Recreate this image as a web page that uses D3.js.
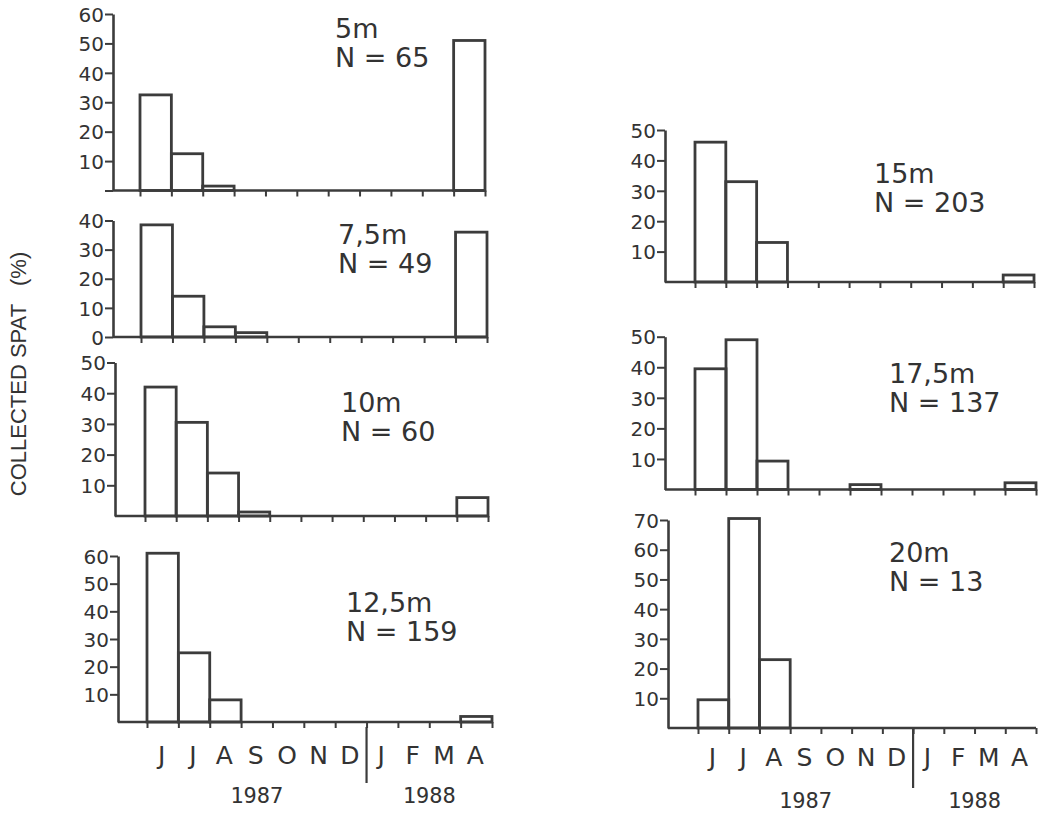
<!DOCTYPE html>
<html><head><meta charset="utf-8">
<script src="https://cdn.jsdelivr.net/npm/d3@7"></script>
<style>
html,body{margin:0;padding:0;background:#fff;}
svg{display:block;}
</style>
</head><body>
<svg id="chart" width="1040" height="814"></svg>
<script>
// ---------- DATA ----------
const months = ["J","J","A","S","O","N","D","J","F","M","A"];
const years = ["1987","1988"];
const depths = ["5m","7,5m","10m","12,5m","15m","17,5m","20m"];
const sampleSizes = [65,49,60,159,203,137,13];
// collected spat (%) per month, Jun 1987 .. Apr 1988
const spat5m   = [32.5,12.5,1.5,0,0,0,0,0,0,0,51];
const spat7_5m = [38.5,14,3.5,1.5,0,0,0,0,0,0,36];
const spat10m  = [42,30.5,14,1.3,0,0,0,0,0,0,6];
const spat12_5m= [61,25,8,0,0,0,0,0,0,0,2];
const spat15m  = [46,33,13,0,0,0,0,0,0,0,2.3];
const spat17_5m= [39.5,49,9.3,0,0,1.6,0,0,0,0,2.2];
const spat20m  = [9.5,70.5,23,0,0,0,0,0,0,0,0];
const yTicks5m   = [0,10,20,30,40,50,60];
const yTicks7_5m = [0,10,20,30,40];
const yTicks10m  = [10,20,30,40,50];
const yTicks12_5m= [10,20,30,40,50,60];
const yTicks15m  = [10,20,30,40,50];
const yTicks17_5m= [10,20,30,40,50];
const yTicks20m  = [10,20,30,40,50,60,70];
const tickLabels5m = ["","10","20","30","40","50","60"];

// ---------- LAYOUT ----------
const panels = [
  {values:spat5m,   ticks:yTicks5m,   labels:tickLabels5m, yMax:60, axisX:113, x0:140, x1:485, base:190.5, top:14,  lx:335, ly:38},
  {values:spat7_5m, ticks:yTicks7_5m, labels:null, yMax:40, axisX:113, x0:141, x1:487, base:337, top:220.5, lx:338, ly:244},
  {values:spat10m,  ticks:yTicks10m,  labels:null, yMax:50, axisX:115, x0:145, x1:488, base:516, top:362.5, lx:341, ly:412},
  {values:spat12_5m,ticks:yTicks12_5m,labels:null, yMax:60, axisX:118, x0:147, x1:492, base:722, top:556, lx:346, ly:612},
  {values:spat15m,  ticks:yTicks15m,  labels:null, yMax:50, axisX:665, x0:695, x1:1034, base:282, top:130, lx:874, ly:183},
  {values:spat17_5m,ticks:yTicks17_5m,labels:null, yMax:50, axisX:665, x0:695, x1:1036, base:489.5, top:336.7, lx:889, ly:383},
  {values:spat20m,  ticks:yTicks20m,  labels:null, yMax:70, axisX:668, x0:698, x1:1036, base:728, top:520, lx:889, ly:562}
];
const INK = "#3c3c3c";
const svg = d3.select("#chart");

panels.forEach((p,i)=>{
  const x = d3.scaleLinear().domain([0,months.length]).range([p.x0,p.x1]);
  const y = d3.scaleLinear().domain([0,p.yMax]).range([p.base,p.top]);
  const g = svg.append("g");
  // y axis
  const ya = d3.axisLeft(y).tickValues(p.ticks).tickSize(8).tickSizeOuter(0)
    .tickFormat((d,k)=> p.labels ? p.labels[k] : String(d));
  const yg = g.append("g").attr("transform",`translate(${p.axisX},0)`).call(ya);
  yg.select(".domain").attr("stroke",INK).attr("stroke-width",2.6);
  yg.selectAll(".tick line").attr("stroke",INK).attr("stroke-width",2);
  yg.selectAll(".tick text").attr("font-family","DejaVu Sans").attr("font-size",20)
    .attr("fill","#333").attr("x",-9).attr("dy","0.36em");
  // baseline
  g.append("line").attr("x1",p.axisX).attr("x2",x(months.length))
    .attr("y1",y(0)).attr("y2",y(0)).attr("stroke",INK).attr("stroke-width",2.6);
  // x ticks
  const xa = d3.axisBottom(x).tickValues(d3.range(months.length+1)).tickSize(6).tickFormat("");
  const xg = g.append("g").attr("transform",`translate(0,${y(0)})`).call(xa);
  xg.select(".domain").remove();
  xg.selectAll(".tick line").attr("stroke",INK).attr("stroke-width",2);
  // bars
  g.selectAll("rect.bar").data(p.values.map((v,k)=>({v,k})).filter(d=>d.v>0))
    .enter().append("rect").attr("class","bar")
    .attr("x",d=>x(d.k)).attr("width",d=>x(d.k+1)-x(d.k))
    .attr("y",d=>y(d.v)).attr("height",d=>y(0)-y(d.v))
    .attr("fill","none").attr("stroke",INK).attr("stroke-width",2.8);
  // labels
  const t = g.append("text").attr("font-family","DejaVu Sans").attr("font-size",27).attr("fill","#333");
  t.append("tspan").attr("x",p.lx).attr("y",p.ly).text(depths[i]);
  t.append("tspan").attr("x",p.lx).attr("y",p.ly+29).text("N = " + sampleSizes[i]);
  p.x = x;
});

// month axes under bottom panels
[{p:panels[3], mb:764, d0:727, d1:783, yb:803},
 {p:panels[6], mb:766, d0:728, d1:788, yb:808}].forEach(o=>{
  const x = o.p.x;
  svg.append("g").selectAll("text").data(months).enter().append("text")
    .attr("x",(d,k)=>x(k+0.5)-1).attr("y",o.mb).attr("text-anchor","middle")
    .attr("font-family","DejaVu Sans").attr("font-size",25).attr("fill","#333").text(d=>d);
  svg.append("line").attr("x1",x(7)).attr("x2",x(7)).attr("y1",o.d0).attr("y2",o.d1)
    .attr("stroke",INK).attr("stroke-width",2.2);
  svg.append("text").attr("x",x(3.5)).attr("y",o.yb).attr("text-anchor","middle")
    .attr("font-family","DejaVu Sans Mono").attr("font-size",22).attr("fill","#333").text(years[0]);
  svg.append("text").attr("x",x(9)).attr("y",o.yb).attr("text-anchor","middle")
    .attr("font-family","DejaVu Sans Mono").attr("font-size",22).attr("fill","#333").text(years[1]);
});

// y axis title
svg.append("text").attr("transform","translate(26,374) rotate(-90)")
  .attr("text-anchor","middle").attr("font-family","Liberation Sans").attr("font-size",22)
  .attr("fill","#333").attr("xml:space","preserve").text("COLLECTED SPAT   (%)");
</script>
</body></html>
